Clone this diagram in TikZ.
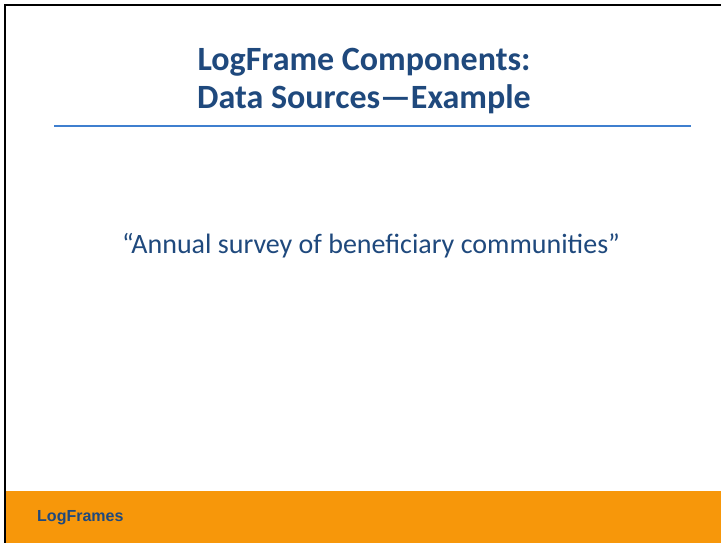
\documentclass[tikz,border=0pt]{standalone}
\usepackage{fontspec}
\setmainfont{Carlito}
\newfontfamily\footfont{Liberation Sans}
\definecolor{titleblue}{HTML}{1F497D}
\definecolor{ruleblue}{HTML}{3F7FCF}
\definecolor{footorange}{HTML}{F7970A}
\begin{document}
\begin{tikzpicture}[x=1pt,y=-1pt,
  titletext/.style={font=\fontsize{34}{38}\selectfont\bfseries, text=titleblue, align=center, inner sep=0},
  bodytext/.style={font=\fontsize{28}{32}\selectfont, text=titleblue, inner sep=0},
  foottext/.style={font=\footfont\fontsize{16}{18}\selectfont\bfseries, text=titleblue, anchor=west, inner sep=0}]
\useasboundingbox (0,0) rectangle (721,543);
\fill[white] (0,0) rectangle (721,543);
\fill[footorange] (5,491) rectangle (721,543);
\draw[line width=2.2pt] (5,543) -- (5,5) -- (721,5);
\draw[ruleblue, line width=1.2pt] (54,126) -- (691,126);
\node[titletext] (title) at (364,81.5) {LogFrame Components:\\Data Sources—Example};
\node[bodytext] (body) at (371,246) {“Annual survey of beneficiary communities”};
\node[foottext] (foot) at (37,518) {LogFrames};
\end{tikzpicture}
\end{document}
